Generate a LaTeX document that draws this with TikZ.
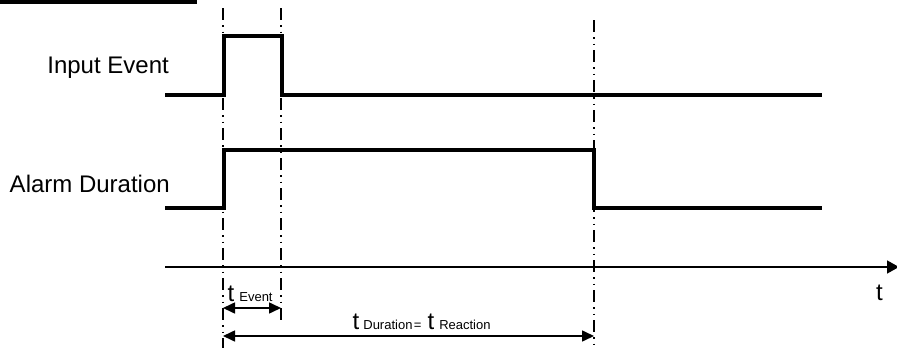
\documentclass[tikz,border=0pt]{standalone}
\usepackage{fontspec}
\setmainfont{Liberation Sans}
\usetikzlibrary{arrows.meta}
\newcommand{\lblfont}{\fontsize{24}{29}\selectfont}
\newcommand{\bigtfont}{\fontsize{24}{28}\selectfont}
\newcommand{\subfont}{\fontsize{13}{15}\selectfont}
\tikzset{
  signal/.style={line width=4pt, line join=miter, line cap=butt},
  marker/.style={line width=2pt, dash pattern=on 12pt off 5pt on 1.5pt off 5pt on 1.5pt off 5pt},
  axisline/.style={line width=1.6pt, -{Triangle[length=12pt,width=13pt]}},
  dimline/.style={line width=1.6pt, {Triangle[length=12pt,width=11pt]}-{Triangle[length=12pt,width=11pt]}},
  lbl/.style={inner sep=0pt, font=\lblfont},
}
\begin{document}
\begin{tikzpicture}[x=1pt,y=-1pt]
\useasboundingbox (0,0) rectangle (897,348);
% top bar
\fill (0,0) rectangle (197,3.5);
% time markers
\coordinate (m1t) at (223,8);   \coordinate (m1b) at (223,348);
\coordinate (m2t) at (281,8);   \coordinate (m2b) at (281,322);
\coordinate (m3t) at (594,20);  \coordinate (m3b) at (594,348);
\draw[marker] (m1t) -- (m1b);
\draw[marker] (m2t) -- (m2b);
\draw[marker] (m3t) -- (m3b);
% labels
\node[lbl, anchor=base east] (inlbl) at (169,73) {Input Event};
\node[lbl, anchor=base east] (allbl) at (170,192) {Alarm Duration};
% input event signal
\coordinate (i0) at (165,95);
\coordinate (i1) at (224,95);
\coordinate (i2) at (224,36);
\coordinate (i3) at (282,36);
\coordinate (i4) at (282,95);
\coordinate (i5) at (822,95);
\draw[signal] (i0) -- (i1) -- (i2) -- (i3) -- (i4) -- (i5);
% alarm duration signal
\coordinate (a0) at (165,208);
\coordinate (a1) at (224,208);
\coordinate (a2) at (224,150);
\coordinate (a3) at (594,150);
\coordinate (a4) at (594,208);
\coordinate (a5) at (822,208);
\draw[signal] (a0) -- (a1) -- (a2) -- (a3) -- (a4) -- (a5);
% time axis
\coordinate (ax0) at (165,267);
\coordinate (ax1) at (899,267);
\draw[axisline] (ax0) -- (ax1);
\node[lbl, anchor=base west] (tlbl) at (876,300) {t};
% t event dimension
\coordinate (e0) at (223,308);
\coordinate (e1) at (281,308);
\draw[dimline] (e0) -- (e1);
\node[inner sep=0pt, anchor=base west] (tev) at (227.5,301) {\bigtfont t\hspace{5pt}\subfont Event};
% t duration dimension
\coordinate (d0) at (223,336);
\coordinate (d1) at (594,336);
\draw[dimline] (d0) -- (d1);
\node[inner sep=0pt, anchor=base west] (tdur) at (352.5,329) {\bigtfont t\hspace{4pt}\subfont Duration\hspace{1.5pt}=\hspace{6pt}\bigtfont t\hspace{5pt}\subfont Reaction};
\end{tikzpicture}
\end{document}
